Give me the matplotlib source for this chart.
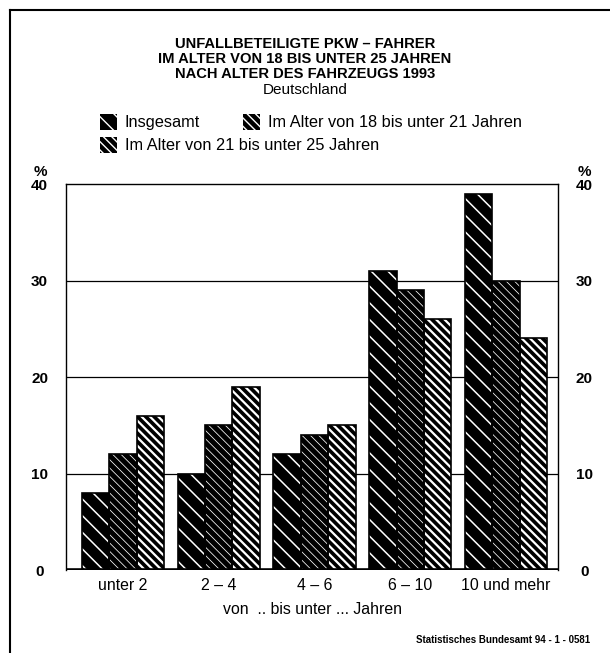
import matplotlib
matplotlib.use("Agg")
import matplotlib.pyplot as plt
import numpy as np
from matplotlib.lines import Line2D

plt.rcParams['font.family'] = ['Liberation Sans', 'DejaVu Sans']

categories = ["unter 2", "2 – 4", "4 – 6", "6 – 10", "10 und mehr"]
series_names = ["Insgesamt",
                "Im Alter von 18 bis unter 21 Jahren",
                "Im Alter von 21 bis unter 25 Jahren"]
insgesamt = [8, 10, 12, 31, 39]
alter_18_21 = [12, 15, 14, 29, 30]
alter_21_25 = [16, 19, 15, 26, 24]
y_ticks = [0, 10, 20, 30, 40]

series = [insgesamt, alter_18_21, alter_21_25]
hatches = ['\\\\', '\\\\\\\\', '\\\\\\\\']
hatch_widths = [1.1, 0.55, 1.6]

W, H = 610, 653
fig = plt.figure(figsize=(W / 100, H / 100), dpi=100)
ax = fig.add_axes([0.1082, 0.1271, 0.8066, 0.5911])

x = np.arange(len(categories))
w = 0.286
handles = []
for i, (vals, h, hw) in enumerate(zip(series, hatches, hatch_widths)):
    pos = x + (i - 1) * w
    with plt.rc_context({'hatch.linewidth': hw}):
        bars = ax.bar(pos, vals, width=w, color='black', edgecolor='white',
                      hatch=h, linewidth=0, zorder=2, label=series_names[i])
    for b in bars:
        if hasattr(b, 'set_hatch_linewidth'):
            b.set_hatch_linewidth(hw)
    ax.bar(pos, vals, width=w, fill=False, edgecolor='black', linewidth=1.2, zorder=3)
    handles.append(bars)

ax.set_xlim(-0.595, 4.543)
ax.set_ylim(0, 40)
for yv in y_ticks[1:-1]:
    ax.axhline(yv, color='black', linewidth=0.9, zorder=1)
ax.axhline(0, color='black', linewidth=2.6, zorder=4)

for s in ['left', 'right', 'top']:
    ax.spines[s].set_linewidth(1.0)
ax.spines['bottom'].set_visible(False)

ax.set_yticks(y_ticks)
ax.set_yticklabels([str(v) for v in y_ticks], fontweight='bold', fontsize=11)
ax.tick_params(axis='y', length=0, labelright=True, right=False, pad=19)
for lab in ax.get_yticklabels():
    lab.set_horizontalalignment('center')
ax.set_xticks(x)
ax.set_xticklabels(categories, fontsize=11.4)
ax.tick_params(axis='x', length=0, pad=6)
ax.set_xlabel("von  .. bis unter ... Jahren", fontsize=11.4, labelpad=6)

# percent signs above the axis scales
ax.text(-0.053, 1.012, "%", transform=ax.transAxes, ha='center', va='bottom',
        fontsize=11, fontweight='bold')
ax.text(1.053, 1.012, "%", transform=ax.transAxes, ha='center', va='bottom',
        fontsize=11, fontweight='bold')

# title block
title_lines = ["UNFALLBETEILIGTE PKW – FAHRER",
               "IM ALTER VON 18 BIS UNTER 25 JAHREN",
               "NACH ALTER DES FAHRZEUGS 1993"]
ty = [44, 59, 74]
for t, yy in zip(title_lines, ty):
    fig.text(0.5, 1 - yy / H, t, ha='center', va='center', fontsize=10.6,
             fontweight='bold')
fig.text(0.5, 1 - 90 / H, "Deutschland", ha='center', va='center', fontsize=11)

# legend entries placed individually
legend_places = [(0, 100, 122), (1, 243, 122), (2, 100, 145)]
for idx, lx, ly in legend_places:
    fig.legend([handles[idx]], [series_names[idx]], loc='center left',
               bbox_to_anchor=(lx / W, 1 - ly / H), frameon=False, fontsize=11.8,
               handlelength=1.05, handleheight=1.2, handletextpad=0.45,
               borderaxespad=0, borderpad=0)

fig.text(0.967, 1 - 640 / H, "Statistisches Bundesamt 94 - 1 - 0581",
         ha='right', va='center', fontsize=7, fontweight='bold')

# outer frame lines (top and left)
fig.add_artist(Line2D([10 / W, 1], [1 - 10 / H, 1 - 10 / H],
                      transform=fig.transFigure, color='black', linewidth=1.5))
fig.add_artist(Line2D([10 / W, 10 / W], [0, 1 - 10 / H],
                      transform=fig.transFigure, color='black', linewidth=1.5))

fig.savefig("out.png", dpi=100)
